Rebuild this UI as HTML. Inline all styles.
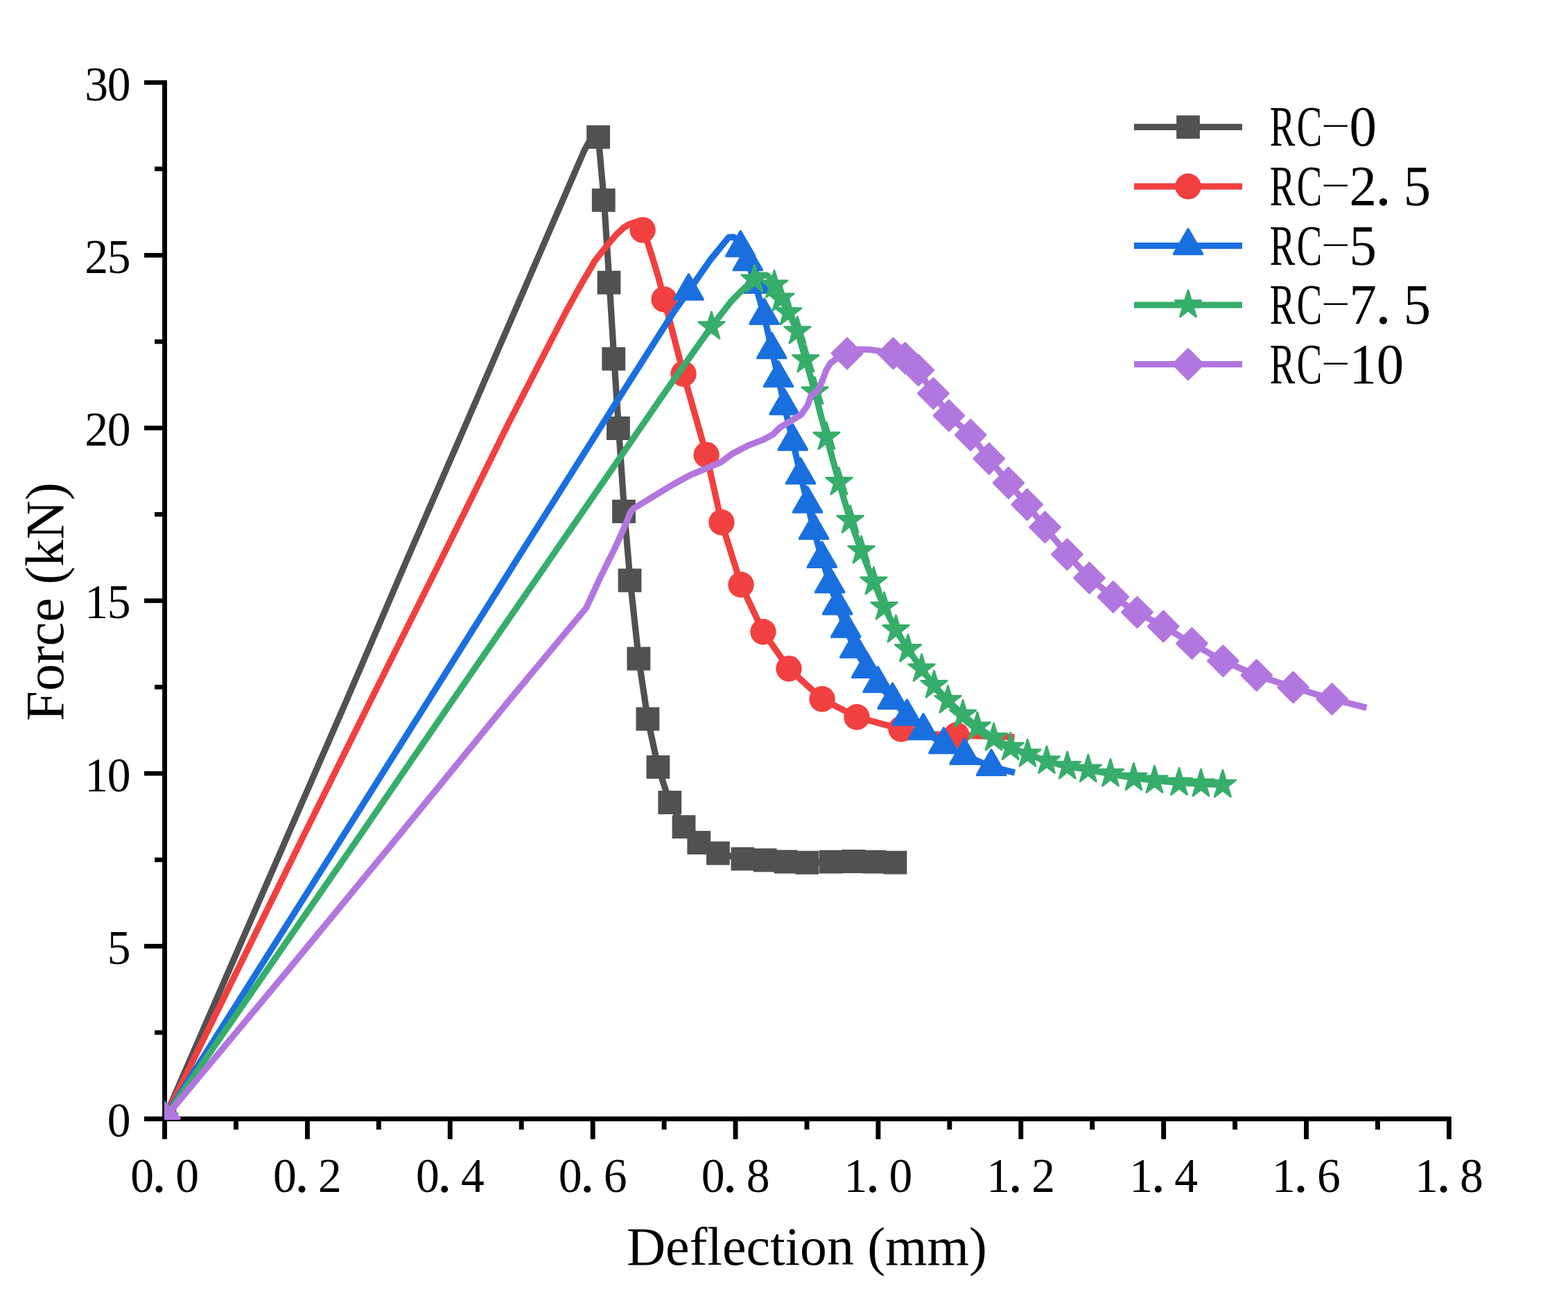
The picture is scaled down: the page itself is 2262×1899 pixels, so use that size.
<!DOCTYPE html>
<html lang="en">
<head>
<meta charset="utf-8">
<title>Force - Deflection</title>
<style>
html,body{margin:0;padding:0;background:#fff}
body{width:2262px;height:1899px}
svg{display:block}
.ax{font-family:"Liberation Serif",serif;fill:#000}
</style>
</head>
<body>
<svg width="2262" height="1899" viewBox="0 0 2262 1899">
<rect width="2262" height="1899" fill="#fff"/>
<defs><clipPath id="plot"><rect x="237" y="0" width="2025" height="1616"/></clipPath></defs>
<g fill="#000"><rect x="234.1" y="115.8" width="6.9" height="1528"/><rect x="208" y="1611.15" width="1885.78" height="6.9"/><rect x="223.1" y="1486.67" width="13" height="6.6"/><rect x="208" y="1362.05" width="28" height="6.6"/><rect x="223.1" y="1237.42" width="13" height="6.6"/><rect x="208" y="1112.8" width="28" height="6.6"/><rect x="223.1" y="988.17" width="13" height="6.6"/><rect x="208" y="863.55" width="28" height="6.6"/><rect x="223.1" y="738.92" width="13" height="6.6"/><rect x="208" y="614.3" width="28" height="6.6"/><rect x="223.1" y="489.67" width="13" height="6.6"/><rect x="208" y="365.05" width="28" height="6.6"/><rect x="223.1" y="240.42" width="13" height="6.6"/><rect x="208" y="115.8" width="28" height="6.6"/><rect x="337.04" y="1616" width="6.9" height="14"/><rect x="439.97" y="1616" width="6.9" height="27.8"/><rect x="542.9" y="1616" width="6.9" height="14"/><rect x="645.84" y="1616" width="6.9" height="27.8"/><rect x="748.77" y="1616" width="6.9" height="14"/><rect x="851.71" y="1616" width="6.9" height="27.8"/><rect x="954.64" y="1616" width="6.9" height="14"/><rect x="1057.58" y="1616" width="6.9" height="27.8"/><rect x="1160.51" y="1616" width="6.9" height="14"/><rect x="1263.45" y="1616" width="6.9" height="27.8"/><rect x="1366.38" y="1616" width="6.9" height="14"/><rect x="1469.32" y="1616" width="6.9" height="27.8"/><rect x="1572.25" y="1616" width="6.9" height="14"/><rect x="1675.19" y="1616" width="6.9" height="27.8"/><rect x="1778.12" y="1616" width="6.9" height="14"/><rect x="1881.06" y="1616" width="6.9" height="27.8"/><rect x="1983.99" y="1616" width="6.9" height="14"/><rect x="2086.93" y="1616" width="6.9" height="27.8"/></g>
<g class="ax"><text y="1719.6" font-size="69.3" text-anchor="middle"><tspan x="205.05" textLength="33.8" lengthAdjust="spacingAndGlyphs">0</tspan><tspan x="229.55" font-size="84">.</tspan><tspan x="270.05" textLength="33.8" lengthAdjust="spacingAndGlyphs">0</tspan></text><text y="1719.6" font-size="69.3" text-anchor="middle"><tspan x="410.92" textLength="33.8" lengthAdjust="spacingAndGlyphs">0</tspan><tspan x="435.42" font-size="84">.</tspan><tspan x="475.92" textLength="33.8" lengthAdjust="spacingAndGlyphs">2</tspan></text><text y="1719.6" font-size="69.3" text-anchor="middle"><tspan x="616.79" textLength="33.8" lengthAdjust="spacingAndGlyphs">0</tspan><tspan x="641.29" font-size="84">.</tspan><tspan x="681.79" textLength="33.8" lengthAdjust="spacingAndGlyphs">4</tspan></text><text y="1719.6" font-size="69.3" text-anchor="middle"><tspan x="822.66" textLength="33.8" lengthAdjust="spacingAndGlyphs">0</tspan><tspan x="847.16" font-size="84">.</tspan><tspan x="887.66" textLength="33.8" lengthAdjust="spacingAndGlyphs">6</tspan></text><text y="1719.6" font-size="69.3" text-anchor="middle"><tspan x="1028.53" textLength="33.8" lengthAdjust="spacingAndGlyphs">0</tspan><tspan x="1053.03" font-size="84">.</tspan><tspan x="1093.53" textLength="33.8" lengthAdjust="spacingAndGlyphs">8</tspan></text><text y="1719.6" font-size="69.3" text-anchor="middle"><tspan x="1234.4" textLength="33.8" lengthAdjust="spacingAndGlyphs">1</tspan><tspan x="1258.9" font-size="84">.</tspan><tspan x="1299.4" textLength="33.8" lengthAdjust="spacingAndGlyphs">0</tspan></text><text y="1719.6" font-size="69.3" text-anchor="middle"><tspan x="1440.27" textLength="33.8" lengthAdjust="spacingAndGlyphs">1</tspan><tspan x="1464.77" font-size="84">.</tspan><tspan x="1505.27" textLength="33.8" lengthAdjust="spacingAndGlyphs">2</tspan></text><text y="1719.6" font-size="69.3" text-anchor="middle"><tspan x="1646.14" textLength="33.8" lengthAdjust="spacingAndGlyphs">1</tspan><tspan x="1670.64" font-size="84">.</tspan><tspan x="1711.14" textLength="33.8" lengthAdjust="spacingAndGlyphs">4</tspan></text><text y="1719.6" font-size="69.3" text-anchor="middle"><tspan x="1852.01" textLength="33.8" lengthAdjust="spacingAndGlyphs">1</tspan><tspan x="1876.51" font-size="84">.</tspan><tspan x="1917.01" textLength="33.8" lengthAdjust="spacingAndGlyphs">6</tspan></text><text y="1719.6" font-size="69.3" text-anchor="middle"><tspan x="2057.88" textLength="33.8" lengthAdjust="spacingAndGlyphs">1</tspan><tspan x="2082.38" font-size="84">.</tspan><tspan x="2122.88" textLength="33.8" lengthAdjust="spacingAndGlyphs">8</tspan></text><text y="1640.2" font-size="69.3" text-anchor="middle"><tspan x="171.7" textLength="33.8" lengthAdjust="spacingAndGlyphs">0</tspan></text><text y="1390.95" font-size="69.3" text-anchor="middle"><tspan x="171.7" textLength="33.8" lengthAdjust="spacingAndGlyphs">5</tspan></text><text y="1141.7" font-size="69.3" text-anchor="middle"><tspan x="139.2" textLength="33.8" lengthAdjust="spacingAndGlyphs">1</tspan><tspan x="171.7" textLength="33.8" lengthAdjust="spacingAndGlyphs">0</tspan></text><text y="892.45" font-size="69.3" text-anchor="middle"><tspan x="139.2" textLength="33.8" lengthAdjust="spacingAndGlyphs">1</tspan><tspan x="171.7" textLength="33.8" lengthAdjust="spacingAndGlyphs">5</tspan></text><text y="643.2" font-size="69.3" text-anchor="middle"><tspan x="139.2" textLength="33.8" lengthAdjust="spacingAndGlyphs">2</tspan><tspan x="171.7" textLength="33.8" lengthAdjust="spacingAndGlyphs">0</tspan></text><text y="393.95" font-size="69.3" text-anchor="middle"><tspan x="139.2" textLength="33.8" lengthAdjust="spacingAndGlyphs">2</tspan><tspan x="171.7" textLength="33.8" lengthAdjust="spacingAndGlyphs">5</tspan></text><text y="144.7" font-size="69.3" text-anchor="middle"><tspan x="139.2" textLength="33.8" lengthAdjust="spacingAndGlyphs">3</tspan><tspan x="171.7" textLength="33.8" lengthAdjust="spacingAndGlyphs">0</tspan></text></g>
<g class="ax"><text x="903.9" y="1824.7" font-size="77.7">Deflection (mm)</text><text transform="translate(91.4 1040.5) rotate(-90)" font-size="78">Force (kN)</text></g>
<g clip-path="url(#plot)"><path d="M237.6 1613.5L413.1 1210L500.2 1010L586 810L673 610L842.5 218L849.5 205L863.1 197.75L871.35 288.8L879.1 407.75L885.85 517.9L892.5 618L900.6 738L909.1 837.5L921.4 950.5L934.4 1037.5L949.4 1106.9L966.25 1158L986.5 1193.1L1008.25 1216L1035.9 1231.25L1071.4 1239.4L1103.75 1241.25L1133.5 1243.5L1164.25 1244.75L1198.5 1243.7L1231.25 1243L1261.25 1243.6L1291.4 1244.6" fill="none" stroke="#515151" stroke-width="9.2" stroke-linejoin="round"/><g fill="#515151"><rect x="220.7" y="1596.6" width="33.8" height="33.8" rx="0.7"/><rect x="846.2" y="180.85" width="33.8" height="33.8" rx="0.7"/><rect x="853.85" y="271.9" width="33.8" height="33.8" rx="0.7"/><rect x="861.6" y="390.85" width="33.8" height="33.8" rx="0.7"/><rect x="868.35" y="501" width="33.8" height="33.8" rx="0.7"/><rect x="875" y="601.1" width="33.8" height="33.8" rx="0.7"/><rect x="883.1" y="721.1" width="33.8" height="33.8" rx="0.7"/><rect x="891.6" y="820.6" width="33.8" height="33.8" rx="0.7"/><rect x="904.5" y="933.6" width="33.8" height="33.8" rx="0.7"/><rect x="917.5" y="1020.6" width="33.8" height="33.8" rx="0.7"/><rect x="932.5" y="1090" width="33.8" height="33.8" rx="0.7"/><rect x="949.35" y="1141.1" width="33.8" height="33.8" rx="0.7"/><rect x="969.6" y="1176.2" width="33.8" height="33.8" rx="0.7"/><rect x="991.35" y="1199.1" width="33.8" height="33.8" rx="0.7"/><rect x="1019" y="1214.35" width="33.8" height="33.8" rx="0.7"/><rect x="1054.5" y="1222.5" width="33.8" height="33.8" rx="0.7"/><rect x="1086.85" y="1224.35" width="33.8" height="33.8" rx="0.7"/><rect x="1116.6" y="1226.6" width="33.8" height="33.8" rx="0.7"/><rect x="1147.35" y="1227.85" width="33.8" height="33.8" rx="0.7"/><rect x="1181.6" y="1226.8" width="33.8" height="33.8" rx="0.7"/><rect x="1214.35" y="1226.1" width="33.8" height="33.8" rx="0.7"/><rect x="1244.35" y="1226.7" width="33.8" height="33.8" rx="0.7"/><rect x="1274.5" y="1227.7" width="33.8" height="33.8" rx="0.7"/></g><path d="M237.6 1613.5L435.95 1210L535.1 1010L635.1 810L734.04 610L816.4 450L828.2 428.6L840.2 407.1L852.9 385.7L857.6 377.1L867.6 364.3L878.1 351.4L888.9 338.6L900 328.3L908.6 323.3L917.1 320.3L927.1 331.9L933 346L942.9 377.1L950.6 402.9L958 432L986 539.5L1019.1 656.4L1040.9 753.7L1069 843.75L1100.9 911.7L1138 964.9L1186 1008.7L1236 1034.75L1300 1052L1345 1059.6L1380 1060.8L1463.5 1063.7" fill="none" stroke="#F14040" stroke-width="9.2" stroke-linejoin="round"/><g fill="#F14040"><circle cx="237.6" cy="1613.5" r="18.7"/><circle cx="927.1" cy="331.9" r="18.7"/><circle cx="958" cy="432" r="18.7"/><circle cx="986" cy="539.5" r="18.7"/><circle cx="1019.1" cy="656.4" r="18.7"/><circle cx="1040.9" cy="753.7" r="18.7"/><circle cx="1069" cy="843.75" r="18.7"/><circle cx="1100.9" cy="911.7" r="18.7"/><circle cx="1138" cy="964.9" r="18.7"/><circle cx="1186" cy="1008.7" r="18.7"/><circle cx="1236" cy="1034.75" r="18.7"/><circle cx="1300" cy="1052" r="18.7"/><circle cx="1380" cy="1060.8" r="18.7"/></g><path d="M237.6 1613.5L492.5 1210L618.5 1010L744.1 810L870.4 610L972 450L993.4 420L1024.7 375L1051.3 342.4L1058.6 342.1L1063.5 346.5L1068.3 357.7L1078.8 377.6L1089.6 410.4L1102.5 455.4L1113.3 504.6L1123 545.6L1131.6 585.6L1143.75 637L1155 685.7L1165 727L1174.1 765.25L1185.9 806.25L1197.1 842.5L1208.1 874L1220.25 907L1233.2 936.4L1250.25 965.25L1266.5 986.4L1287.6 1010.25L1308.5 1033.9L1332 1054.5L1361.5 1074.5L1391.5 1090.25L1430.1 1106.25L1464 1115" fill="none" stroke="#1A6FDF" stroke-width="9.2" stroke-linejoin="round"/><g fill="#1A6FDF"><path d="M215.6 1627.13L215.6 1624.3L236.2 1588.6L237 1587.8L238.2 1587.8L239 1588.6L259.6 1624.3L259.6 1627.13Z"/><path d="M971.5 433.63L971.5 430.8L992.1 395.1L992.9 394.3L994.1 394.3L994.9 395.1L1015.5 430.8L1015.5 433.63Z"/><path d="M1046.3 371.33L1046.3 368.5L1066.9 332.8L1067.7 332L1068.9 332L1069.7 332.8L1090.3 368.5L1090.3 371.33Z"/><path d="M1056.8 391.23L1056.8 388.4L1077.4 352.7L1078.2 351.9L1079.4 351.9L1080.2 352.7L1100.8 388.4L1100.8 391.23Z"/><path d="M1067.6 424.03L1067.6 421.2L1088.2 385.5L1089 384.7L1090.2 384.7L1091 385.5L1111.6 421.2L1111.6 424.03Z"/><path d="M1080.5 469.03L1080.5 466.2L1101.1 430.5L1101.9 429.7L1103.1 429.7L1103.9 430.5L1124.5 466.2L1124.5 469.03Z"/><path d="M1091.3 518.23L1091.3 515.4L1111.9 479.7L1112.7 478.9L1113.9 478.9L1114.7 479.7L1135.3 515.4L1135.3 518.23Z"/><path d="M1101 559.23L1101 556.4L1121.6 520.7L1122.4 519.9L1123.6 519.9L1124.4 520.7L1145 556.4L1145 559.23Z"/><path d="M1109.6 599.23L1109.6 596.4L1130.2 560.7L1131 559.9L1132.2 559.9L1133 560.7L1153.6 596.4L1153.6 599.23Z"/><path d="M1121.75 650.63L1121.75 647.8L1142.35 612.1L1143.15 611.3L1144.35 611.3L1145.15 612.1L1165.75 647.8L1165.75 650.63Z"/><path d="M1133 699.33L1133 696.5L1153.6 660.8L1154.4 660L1155.6 660L1156.4 660.8L1177 696.5L1177 699.33Z"/><path d="M1143 740.63L1143 737.8L1163.6 702.1L1164.4 701.3L1165.6 701.3L1166.4 702.1L1187 737.8L1187 740.63Z"/><path d="M1152.1 778.88L1152.1 776.05L1172.7 740.35L1173.5 739.55L1174.7 739.55L1175.5 740.35L1196.1 776.05L1196.1 778.88Z"/><path d="M1163.9 819.88L1163.9 817.05L1184.5 781.35L1185.3 780.55L1186.5 780.55L1187.3 781.35L1207.9 817.05L1207.9 819.88Z"/><path d="M1175.1 856.13L1175.1 853.3L1195.7 817.6L1196.5 816.8L1197.7 816.8L1198.5 817.6L1219.1 853.3L1219.1 856.13Z"/><path d="M1186.1 887.63L1186.1 884.8L1206.7 849.1L1207.5 848.3L1208.7 848.3L1209.5 849.1L1230.1 884.8L1230.1 887.63Z"/><path d="M1198.25 920.63L1198.25 917.8L1218.85 882.1L1219.65 881.3L1220.85 881.3L1221.65 882.1L1242.25 917.8L1242.25 920.63Z"/><path d="M1211.2 950.03L1211.2 947.2L1231.8 911.5L1232.6 910.7L1233.8 910.7L1234.6 911.5L1255.2 947.2L1255.2 950.03Z"/><path d="M1228.25 978.88L1228.25 976.05L1248.85 940.35L1249.65 939.55L1250.85 939.55L1251.65 940.35L1272.25 976.05L1272.25 978.88Z"/><path d="M1244.5 1000.03L1244.5 997.2L1265.1 961.5L1265.9 960.7L1267.1 960.7L1267.9 961.5L1288.5 997.2L1288.5 1000.03Z"/><path d="M1265.6 1023.88L1265.6 1021.05L1286.2 985.35L1287 984.55L1288.2 984.55L1289 985.35L1309.6 1021.05L1309.6 1023.88Z"/><path d="M1286.5 1047.53L1286.5 1044.7L1307.1 1009L1307.9 1008.2L1309.1 1008.2L1309.9 1009L1330.5 1044.7L1330.5 1047.53Z"/><path d="M1310 1068.13L1310 1065.3L1330.6 1029.6L1331.4 1028.8L1332.6 1028.8L1333.4 1029.6L1354 1065.3L1354 1068.13Z"/><path d="M1339.5 1088.13L1339.5 1085.3L1360.1 1049.6L1360.9 1048.8L1362.1 1048.8L1362.9 1049.6L1383.5 1085.3L1383.5 1088.13Z"/><path d="M1369.5 1103.88L1369.5 1101.05L1390.1 1065.35L1390.9 1064.55L1392.1 1064.55L1392.9 1065.35L1413.5 1101.05L1413.5 1103.88Z"/><path d="M1408.1 1119.88L1408.1 1117.05L1428.7 1081.35L1429.5 1080.55L1430.7 1080.55L1431.5 1081.35L1452.1 1117.05L1452.1 1119.88Z"/></g><path d="M237.6 1613.5L516.4 1210L653.4 1010L791.3 810L960 565L1026.4 471.3L1054.6 435L1071.4 417.9L1082.1 408.6L1088.4 403.4L1095 397.3L1106 397L1112 402L1117.1 411.5L1126.5 430.5L1137.4 451.1L1150.45 478.1L1162.3 519.1L1175.5 565.5L1192.4 630.7L1210.4 696L1226.6 751L1242.5 794.75L1260.4 839.75L1275.6 876L1292.4 909L1310 937L1329.6 965.25L1347.5 989L1367.5 1010.75L1389.1 1031.5L1409.9 1049.1L1433.6 1065L1457.75 1078.6L1482.4 1088.25L1510 1098.25L1539.75 1106L1569.75 1110.4L1602 1116.75L1635.5 1122.5L1665.5 1126.25L1701 1129.5L1732.5 1131.25L1763.9 1132.5" fill="none" stroke="#37AD6B" stroke-width="9.2" stroke-linejoin="round"/><g fill="#37AD6B" stroke="#37AD6B" stroke-width="2.8" stroke-linejoin="round"><path d="M237.6 1592.3L242.02 1606.95L256.34 1606.95L244.76 1616L249.18 1630.65L237.6 1621.6L226.02 1630.65L230.44 1616L218.86 1606.95L233.18 1606.95Z"/><path d="M1026.4 450.1L1030.82 464.75L1045.14 464.75L1033.56 473.8L1037.98 488.45L1026.4 479.4L1014.82 488.45L1019.24 473.8L1007.66 464.75L1021.98 464.75Z"/><path d="M1088.4 382.2L1092.82 396.85L1107.14 396.85L1095.56 405.9L1099.98 420.55L1088.4 411.5L1076.82 420.55L1081.24 405.9L1069.66 396.85L1083.98 396.85Z"/><path d="M1117.1 390.3L1121.52 404.95L1135.84 404.95L1124.26 414L1128.68 428.65L1117.1 419.6L1105.52 428.65L1109.94 414L1098.36 404.95L1112.68 404.95Z"/><path d="M1126.5 409.3L1130.92 423.95L1145.24 423.95L1133.66 433L1138.08 447.65L1126.5 438.6L1114.92 447.65L1119.34 433L1107.76 423.95L1122.08 423.95Z"/><path d="M1137.4 429.9L1141.82 444.55L1156.14 444.55L1144.56 453.6L1148.98 468.25L1137.4 459.2L1125.82 468.25L1130.24 453.6L1118.66 444.55L1132.98 444.55Z"/><path d="M1150.45 456.9L1154.87 471.55L1169.19 471.55L1157.61 480.6L1162.03 495.25L1150.45 486.2L1138.87 495.25L1143.29 480.6L1131.71 471.55L1146.03 471.55Z"/><path d="M1162.3 497.9L1166.72 512.55L1181.04 512.55L1169.46 521.6L1173.88 536.25L1162.3 527.2L1150.72 536.25L1155.14 521.6L1143.56 512.55L1157.88 512.55Z"/><path d="M1175.5 544.3L1179.92 558.95L1194.24 558.95L1182.66 568L1187.08 582.65L1175.5 573.6L1163.92 582.65L1168.34 568L1156.76 558.95L1171.08 558.95Z"/><path d="M1192.4 609.5L1196.82 624.15L1211.14 624.15L1199.56 633.2L1203.98 647.85L1192.4 638.8L1180.82 647.85L1185.24 633.2L1173.66 624.15L1187.98 624.15Z"/><path d="M1210.4 674.8L1214.82 689.45L1229.14 689.45L1217.56 698.5L1221.98 713.15L1210.4 704.1L1198.82 713.15L1203.24 698.5L1191.66 689.45L1205.98 689.45Z"/><path d="M1226.6 729.8L1231.02 744.45L1245.34 744.45L1233.76 753.5L1238.18 768.15L1226.6 759.1L1215.02 768.15L1219.44 753.5L1207.86 744.45L1222.18 744.45Z"/><path d="M1242.5 773.55L1246.92 788.2L1261.24 788.2L1249.66 797.25L1254.08 811.9L1242.5 802.85L1230.92 811.9L1235.34 797.25L1223.76 788.2L1238.08 788.2Z"/><path d="M1260.4 818.55L1264.82 833.2L1279.14 833.2L1267.56 842.25L1271.98 856.9L1260.4 847.85L1248.82 856.9L1253.24 842.25L1241.66 833.2L1255.98 833.2Z"/><path d="M1275.6 854.8L1280.02 869.45L1294.34 869.45L1282.76 878.5L1287.18 893.15L1275.6 884.1L1264.02 893.15L1268.44 878.5L1256.86 869.45L1271.18 869.45Z"/><path d="M1292.4 887.8L1296.82 902.45L1311.14 902.45L1299.56 911.5L1303.98 926.15L1292.4 917.1L1280.82 926.15L1285.24 911.5L1273.66 902.45L1287.98 902.45Z"/><path d="M1310 915.8L1314.42 930.45L1328.74 930.45L1317.16 939.5L1321.58 954.15L1310 945.1L1298.42 954.15L1302.84 939.5L1291.26 930.45L1305.58 930.45Z"/><path d="M1329.6 944.05L1334.02 958.7L1348.34 958.7L1336.76 967.75L1341.18 982.4L1329.6 973.35L1318.02 982.4L1322.44 967.75L1310.86 958.7L1325.18 958.7Z"/><path d="M1347.5 967.8L1351.92 982.45L1366.24 982.45L1354.66 991.5L1359.08 1006.15L1347.5 997.1L1335.92 1006.15L1340.34 991.5L1328.76 982.45L1343.08 982.45Z"/><path d="M1367.5 989.55L1371.92 1004.2L1386.24 1004.2L1374.66 1013.25L1379.08 1027.9L1367.5 1018.85L1355.92 1027.9L1360.34 1013.25L1348.76 1004.2L1363.08 1004.2Z"/><path d="M1389.1 1010.3L1393.52 1024.95L1407.84 1024.95L1396.26 1034L1400.68 1048.65L1389.1 1039.6L1377.52 1048.65L1381.94 1034L1370.36 1024.95L1384.68 1024.95Z"/><path d="M1409.9 1027.9L1414.32 1042.55L1428.64 1042.55L1417.06 1051.6L1421.48 1066.25L1409.9 1057.2L1398.32 1066.25L1402.74 1051.6L1391.16 1042.55L1405.48 1042.55Z"/><path d="M1433.6 1043.8L1438.02 1058.45L1452.34 1058.45L1440.76 1067.5L1445.18 1082.15L1433.6 1073.1L1422.02 1082.15L1426.44 1067.5L1414.86 1058.45L1429.18 1058.45Z"/><path d="M1457.75 1057.4L1462.17 1072.05L1476.49 1072.05L1464.91 1081.1L1469.33 1095.75L1457.75 1086.7L1446.17 1095.75L1450.59 1081.1L1439.01 1072.05L1453.33 1072.05Z"/><path d="M1482.4 1067.05L1486.82 1081.7L1501.14 1081.7L1489.56 1090.75L1493.98 1105.4L1482.4 1096.35L1470.82 1105.4L1475.24 1090.75L1463.66 1081.7L1477.98 1081.7Z"/><path d="M1510 1077.05L1514.42 1091.7L1528.74 1091.7L1517.16 1100.75L1521.58 1115.4L1510 1106.35L1498.42 1115.4L1502.84 1100.75L1491.26 1091.7L1505.58 1091.7Z"/><path d="M1539.75 1084.8L1544.17 1099.45L1558.49 1099.45L1546.91 1108.5L1551.33 1123.15L1539.75 1114.1L1528.17 1123.15L1532.59 1108.5L1521.01 1099.45L1535.33 1099.45Z"/><path d="M1569.75 1089.2L1574.17 1103.85L1588.49 1103.85L1576.91 1112.9L1581.33 1127.55L1569.75 1118.5L1558.17 1127.55L1562.59 1112.9L1551.01 1103.85L1565.33 1103.85Z"/><path d="M1602 1095.55L1606.42 1110.2L1620.74 1110.2L1609.16 1119.25L1613.58 1133.9L1602 1124.85L1590.42 1133.9L1594.84 1119.25L1583.26 1110.2L1597.58 1110.2Z"/><path d="M1635.5 1101.3L1639.92 1115.95L1654.24 1115.95L1642.66 1125L1647.08 1139.65L1635.5 1130.6L1623.92 1139.65L1628.34 1125L1616.76 1115.95L1631.08 1115.95Z"/><path d="M1665.5 1105.05L1669.92 1119.7L1684.24 1119.7L1672.66 1128.75L1677.08 1143.4L1665.5 1134.35L1653.92 1143.4L1658.34 1128.75L1646.76 1119.7L1661.08 1119.7Z"/><path d="M1701 1108.3L1705.42 1122.95L1719.74 1122.95L1708.16 1132L1712.58 1146.65L1701 1137.6L1689.42 1146.65L1693.84 1132L1682.26 1122.95L1696.58 1122.95Z"/><path d="M1732.5 1110.05L1736.92 1124.7L1751.24 1124.7L1739.66 1133.75L1744.08 1148.4L1732.5 1139.35L1720.92 1148.4L1725.34 1133.75L1713.76 1124.7L1728.08 1124.7Z"/><path d="M1763.9 1111.3L1768.32 1125.95L1782.64 1125.95L1771.06 1135L1775.48 1149.65L1763.9 1140.6L1752.32 1149.65L1756.74 1135L1745.16 1125.95L1759.48 1125.95Z"/></g><path d="M237.6 1613.5L415.5 1400L571.9 1210L735.1 1010L845.7 877.1L865.8 833.8L887.5 790L904 753.3L909.5 739L914.3 733.7L948.6 712.6L971.4 698.9L994.3 686.3L1017.1 676.6L1040 666.9L1057.1 654.3L1080 642.5L1100 635L1115 627L1125 617L1140 608L1156 598L1165 585L1170 571L1180 563L1186 550L1192 534L1198 524L1206 518L1222 510L1240 504L1255 504.5L1267 506.3L1288.5 510L1305.7 516.7L1324.8 534.1L1346.4 567.75L1368.9 599.75L1400.2 627.75L1426.8 661.9L1454.9 696.9L1481.7 728.15L1507.5 760.75L1539.5 800L1571.5 834L1605.9 861.4L1640.5 883.5L1678.25 903.9L1719.5 928.5L1764.4 953.75L1812.75 974.4L1865.6 991.9L1921.6 1008.75L1971.5 1021.25" fill="none" stroke="#B177DE" stroke-width="9.2" stroke-linejoin="round"/><g fill="#B177DE" stroke="#B177DE" stroke-width="3.4" stroke-linejoin="round"><path d="M237.6 1591.9L259.2 1613.5L237.6 1635.1L216 1613.5Z"/><path d="M1222 488.4L1243.6 510L1222 531.6L1200.4 510Z"/><path d="M1288.5 488.4L1310.1 510L1288.5 531.6L1266.9 510Z"/><path d="M1305.7 495.1L1327.3 516.7L1305.7 538.3L1284.1 516.7Z"/><path d="M1324.8 512.5L1346.4 534.1L1324.8 555.7L1303.2 534.1Z"/><path d="M1346.4 546.15L1368 567.75L1346.4 589.35L1324.8 567.75Z"/><path d="M1368.9 578.15L1390.5 599.75L1368.9 621.35L1347.3 599.75Z"/><path d="M1400.2 606.15L1421.8 627.75L1400.2 649.35L1378.6 627.75Z"/><path d="M1426.8 640.3L1448.4 661.9L1426.8 683.5L1405.2 661.9Z"/><path d="M1454.9 675.3L1476.5 696.9L1454.9 718.5L1433.3 696.9Z"/><path d="M1481.7 706.55L1503.3 728.15L1481.7 749.75L1460.1 728.15Z"/><path d="M1507.5 739.15L1529.1 760.75L1507.5 782.35L1485.9 760.75Z"/><path d="M1539.5 778.4L1561.1 800L1539.5 821.6L1517.9 800Z"/><path d="M1571.5 812.4L1593.1 834L1571.5 855.6L1549.9 834Z"/><path d="M1605.9 839.8L1627.5 861.4L1605.9 883L1584.3 861.4Z"/><path d="M1640.5 861.9L1662.1 883.5L1640.5 905.1L1618.9 883.5Z"/><path d="M1678.25 882.3L1699.85 903.9L1678.25 925.5L1656.65 903.9Z"/><path d="M1719.5 906.9L1741.1 928.5L1719.5 950.1L1697.9 928.5Z"/><path d="M1764.4 932.15L1786 953.75L1764.4 975.35L1742.8 953.75Z"/><path d="M1812.75 952.8L1834.35 974.4L1812.75 996L1791.15 974.4Z"/><path d="M1865.6 970.3L1887.2 991.9L1865.6 1013.5L1844 991.9Z"/><path d="M1921.6 987.15L1943.2 1008.75L1921.6 1030.35L1900 1008.75Z"/></g></g>
<g><rect x="1636" y="178.7" width="156" height="9.2" fill="#515151"/><g fill="#515151"><rect x="1697.1" y="166.4" width="33.8" height="33.8" rx="0.7"/></g><text class="ax" font-size="82" text-anchor="middle"><tspan x="1850" y="210.3" textLength="36.5" lengthAdjust="spacingAndGlyphs">R</tspan><tspan x="1889" y="210.3" textLength="36.5" lengthAdjust="spacingAndGlyphs">C</tspan><tspan x="1926.7" y="190.35" font-size="33" textLength="44" lengthAdjust="spacingAndGlyphs">-</tspan><tspan x="1966.3" y="210.3" textLength="39.4" lengthAdjust="spacingAndGlyphs">0</tspan></text><rect x="1636" y="264.4" width="156" height="9.2" fill="#F14040"/><g fill="#F14040"><circle cx="1714" cy="269" r="18.7"/></g><text class="ax" font-size="82" text-anchor="middle"><tspan x="1850" y="296" textLength="36.5" lengthAdjust="spacingAndGlyphs">R</tspan><tspan x="1889" y="296" textLength="36.5" lengthAdjust="spacingAndGlyphs">C</tspan><tspan x="1926.7" y="276.05" font-size="33" textLength="44" lengthAdjust="spacingAndGlyphs">-</tspan><tspan x="1966.3" y="296" textLength="39.4" lengthAdjust="spacingAndGlyphs">2</tspan><tspan x="1995.4" y="296" font-size="94">.</tspan><tspan x="2044.5" y="296" textLength="39.4" lengthAdjust="spacingAndGlyphs">5</tspan></text><rect x="1636" y="350" width="156" height="9.2" fill="#1A6FDF"/><g fill="#1A6FDF"><path d="M1692 368.23L1692 365.4L1712.6 329.7L1713.4 328.9L1714.6 328.9L1715.4 329.7L1736 365.4L1736 368.23Z"/></g><text class="ax" font-size="82" text-anchor="middle"><tspan x="1850" y="381.6" textLength="36.5" lengthAdjust="spacingAndGlyphs">R</tspan><tspan x="1889" y="381.6" textLength="36.5" lengthAdjust="spacingAndGlyphs">C</tspan><tspan x="1926.7" y="361.65" font-size="33" textLength="44" lengthAdjust="spacingAndGlyphs">-</tspan><tspan x="1966.3" y="381.6" textLength="39.4" lengthAdjust="spacingAndGlyphs">5</tspan></text><rect x="1636" y="435.5" width="156" height="9.2" fill="#37AD6B"/><g fill="#37AD6B" stroke="#37AD6B" stroke-width="2.8" stroke-linejoin="round"><path d="M1714 418.9L1718.42 433.55L1732.74 433.55L1721.16 442.6L1725.58 457.25L1714 448.2L1702.42 457.25L1706.84 442.6L1695.26 433.55L1709.58 433.55Z"/></g><text class="ax" font-size="82" text-anchor="middle"><tspan x="1850" y="467.1" textLength="36.5" lengthAdjust="spacingAndGlyphs">R</tspan><tspan x="1889" y="467.1" textLength="36.5" lengthAdjust="spacingAndGlyphs">C</tspan><tspan x="1926.7" y="447.15" font-size="33" textLength="44" lengthAdjust="spacingAndGlyphs">-</tspan><tspan x="1966.3" y="467.1" textLength="39.4" lengthAdjust="spacingAndGlyphs">7</tspan><tspan x="1995.4" y="467.1" font-size="94">.</tspan><tspan x="2044.5" y="467.1" textLength="39.4" lengthAdjust="spacingAndGlyphs">5</tspan></text><rect x="1636" y="521" width="156" height="9.2" fill="#B177DE"/><g fill="#B177DE" stroke="#B177DE" stroke-width="3.4" stroke-linejoin="round"><path d="M1714 504L1735.6 525.6L1714 547.2L1692.4 525.6Z"/></g><text class="ax" font-size="82" text-anchor="middle"><tspan x="1850" y="552.6" textLength="36.5" lengthAdjust="spacingAndGlyphs">R</tspan><tspan x="1889" y="552.6" textLength="36.5" lengthAdjust="spacingAndGlyphs">C</tspan><tspan x="1926.7" y="532.65" font-size="33" textLength="44" lengthAdjust="spacingAndGlyphs">-</tspan><tspan x="1966.3" y="552.6" textLength="39.4" lengthAdjust="spacingAndGlyphs">1</tspan><tspan x="2005.4" y="552.6" textLength="39.4" lengthAdjust="spacingAndGlyphs">0</tspan></text></g>
</svg>
</body>
</html>
